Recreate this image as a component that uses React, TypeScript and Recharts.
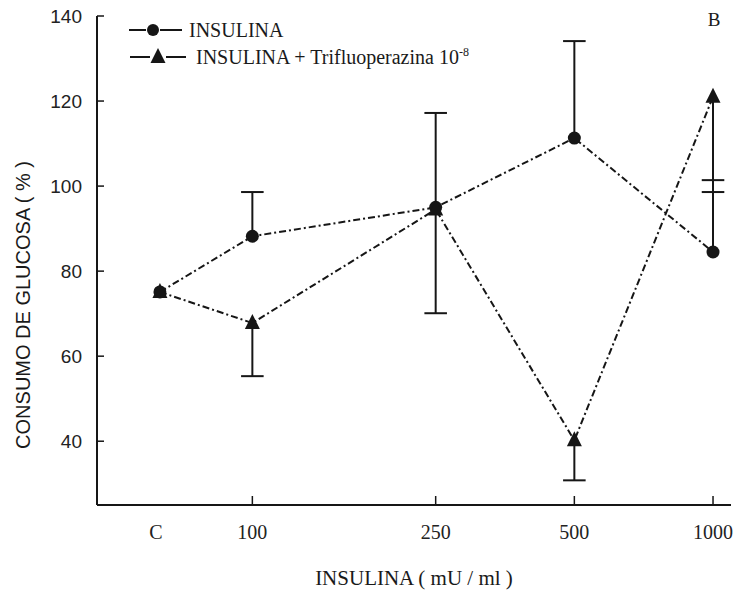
import React from "react"
import { LineChart, Line, XAxis, YAxis, ReferenceLine } from "recharts"

// dose axis is logarithmic; the control "C" sits a bit below 100
const doseLabels = ["C", "100", "250", "500", "1000"]
const doseValues = [63, 100, 250, 500, 1000]

const insulina = [75.1, 88.2, 95, 111.3, 84.5]
const insulinaTfp = [75.1, 67.8, 94.5, 40.2, 121]

// one-sided error bars: end value of each whisker (null = none)
const insulinaErrUp = [null, 98.6, 117.2, 134.1, 101.4]
const insulinaTfpErrDown = [null, 55.3, 70.1, 30.8, 98.6]

const yTicks = [40, 60, 80, 100, 120, 140]

const INK = "#161616"
const SERIF = "'Liberation Serif', 'DejaVu Serif', serif"
const SANS = "'Liberation Sans', Arial, sans-serif"
const CAP = 1.058 // half cap width as a factor on the log x axis

const data = doseValues.map((d, i) => ({
  dose: d,
  ins: insulina[i],
  tfp: insulinaTfp[i],
}))

const errors: { x: number; from: number; to: number }[] = []
doseValues.forEach((d, i) => {
  const up = insulinaErrUp[i]
  if (up != null) errors.push({ x: d, from: insulina[i], to: up })
  const dn = insulinaTfpErrDown[i]
  if (dn != null) errors.push({ x: d, from: insulinaTfp[i], to: dn })
})

const CircleDot = (props: any) => {
  const { cx, cy } = props
  if (cx == null || cy == null) return null
  return <circle cx={cx} cy={cy} r={6.5} fill={INK} />
}

const TriangleDot = (props: any) => {
  const { cx, cy } = props
  if (cx == null || cy == null) return null
  return <path d={`M${cx},${cy - 9} L${cx + 7.5},${cy + 6} L${cx - 7.5},${cy + 6} Z`} fill={INK} />
}

const XTick = (props: any) => {
  const { x, y, payload } = props
  const i = doseValues.indexOf(payload.value)
  return (
    <g>
      {i > 0 && <line x1={x} x2={x} y1={y} y2={y - 9} stroke={INK} strokeWidth={1.5} />}
      <text x={i === 0 ? x - 4 : x} y={y + 34} textAnchor="middle" fontFamily={SERIF} fontSize={20} fill="#222">
        {doseLabels[i]}
      </text>
    </g>
  )
}

const YTick = (props: any) => {
  const { x, y, payload } = props
  return (
    <g>
      <line x1={x} x2={x + 7} y1={y} y2={y} stroke={INK} strokeWidth={1.5} />
      <text x={x - 15} y={y + 7} textAnchor="end" fontFamily={SANS} fontSize={19} fill="#222">
        {payload.value}
      </text>
    </g>
  )
}

export default function App() {
  return (
    <div style={{ position: "absolute", left: 0, top: 0, width: 739, height: 591, background: "#fff" }}>
      <LineChart width={739} height={591} data={data} margin={{ top: 16, right: 8, left: 0, bottom: 0 }}>
        <XAxis
          dataKey="dose"
          type="number"
          scale="log"
          domain={[46, 1094]}
          allowDataOverflow
          ticks={doseValues}
          interval={0}
          height={86}
          tickSize={0}
          tickMargin={0}
          tickLine={false}
          axisLine={{ stroke: INK, strokeWidth: 2 }}
          tick={<XTick />}
        />
        <YAxis
          type="number"
          domain={[25, 140]}
          allowDataOverflow
          ticks={yTicks}
          interval={0}
          width={97}
          tickSize={0}
          tickMargin={0}
          tickLine={false}
          axisLine={{ stroke: INK, strokeWidth: 2 }}
          tick={<YTick />}
        />
        {errors.map((e, k) => (
          <ReferenceLine
            key={`v${k}`}
            segment={[{ x: e.x, y: e.from }, { x: e.x, y: e.to }]}
            stroke={INK}
            strokeWidth={2}
          />
        ))}
        {errors.map((e, k) => (
          <ReferenceLine
            key={`c${k}`}
            segment={[{ x: e.x / CAP, y: e.to }, { x: e.x * CAP, y: e.to }]}
            stroke={INK}
            strokeWidth={2}
          />
        ))}
        <Line
          type="linear"
          dataKey="ins"
          stroke={INK}
          strokeWidth={2}
          strokeDasharray="7 3 2 3"
          dot={<CircleDot />}
          activeDot={false}
          isAnimationActive={false}
        />
        <Line
          type="linear"
          dataKey="tfp"
          stroke={INK}
          strokeWidth={2}
          strokeDasharray="7 3 2 3"
          dot={<TriangleDot />}
          activeDot={false}
          isAnimationActive={false}
        />
      </LineChart>
      <svg width={739} height={591} style={{ position: "absolute", left: 0, top: 0, pointerEvents: "none" }}>
        {/* legend */}
        <line x1={129} x2={146} y1={30} y2={30} stroke={INK} strokeWidth={2} />
        <line x1={160} x2={182} y1={30} y2={30} stroke={INK} strokeWidth={2} />
        <circle cx={153} cy={30} r={6} fill={INK} />
        <text x={189} y={37} fontFamily={SERIF} fontSize={20} fill="#1a1a1a">INSULINA</text>
        <line x1={130} x2={150} y1={57} y2={57} stroke={INK} strokeWidth={2} />
        <line x1={166} x2={186} y1={57} y2={57} stroke={INK} strokeWidth={2} />
        <path d="M158,48 L165.5,63 L150.5,63 Z" fill={INK} />
        <text x={196} y={64} fontFamily={SERIF} fontSize={20} fill="#1a1a1a">
          INSULINA + Trifluoperazina 10
          <tspan fontSize={12} dy={-8}>-8</tspan>
        </text>
        <text x={714} y={26} textAnchor="middle" fontFamily={SERIF} fontSize={19} fill="#1a1a1a">B</text>
        {/* axis titles */}
        <text x={414} y={585} textAnchor="middle" fontFamily={SERIF} fontSize={21} fill="#1a1a1a">
          INSULINA ( mU / ml )
        </text>
        <text
          x={30}
          y={305}
          textAnchor="middle"
          fontFamily={SANS}
          fontSize={20}
          fill="#1a1a1a"
          transform="rotate(-90 30 305)"
        >
          CONSUMO DE GLUCOSA ( % )
        </text>
      </svg>
    </div>
  )
}
